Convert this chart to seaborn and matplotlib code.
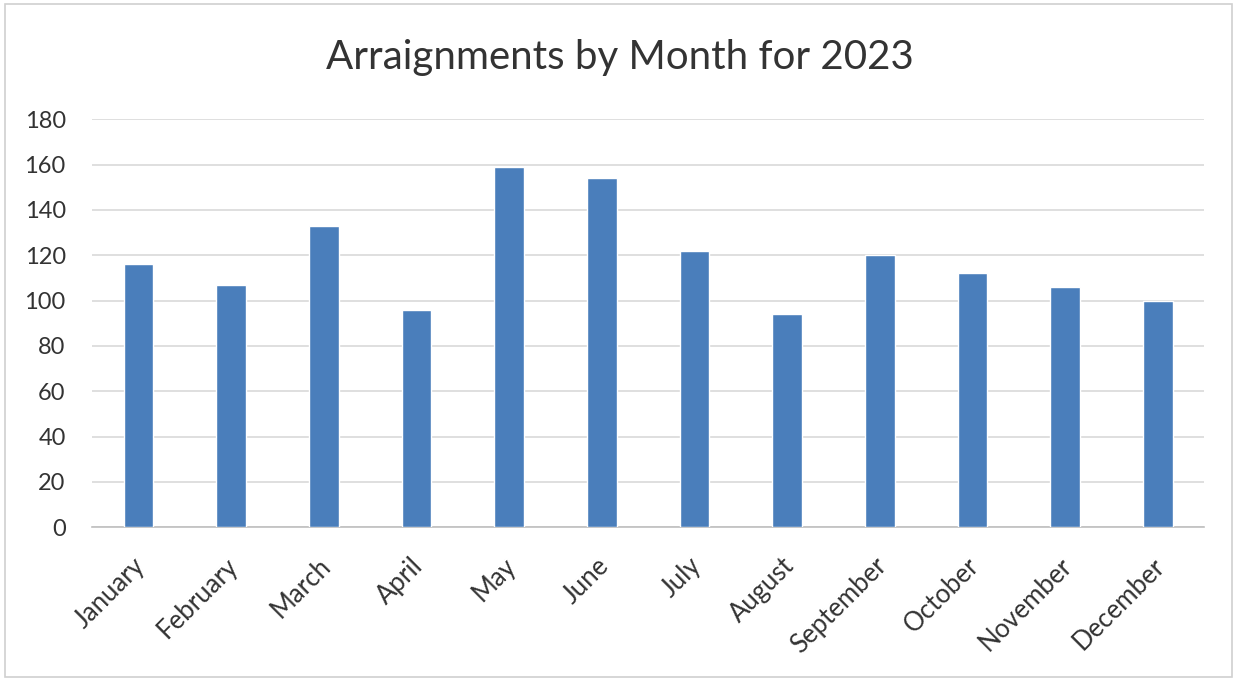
import matplotlib
matplotlib.use("Agg")
import matplotlib.pyplot as plt
import matplotlib.transforms as mtransforms
import seaborn as sns
import pandas as pd
from matplotlib.patches import Rectangle

months = ["January", "February", "March", "April", "May", "June", "July",
          "August", "September", "October", "November", "December"]
arraignments = [116, 107, 133, 96, 159, 154, 122, 94, 120, 112, 106, 100]
y_ticks = [0, 20, 40, 60, 80, 100, 120, 140, 160, 180]
title = "Arraignments by Month for 2023"

sns.set_theme(style="white")
plt.rcParams["font.family"] = ["Lato", "DejaVu Sans"]

df = pd.DataFrame({"Month": months, "Arraignments": arraignments})

fig = plt.figure(figsize=(12.39, 6.81), dpi=100)
ax = fig.add_axes([0.0743, 0.2257, 0.8977, 0.5991])

sns.barplot(data=df, x="Month", y="Arraignments", color="#4a7ebb",
            width=0.32, saturation=1, ax=ax, zorder=3)

ax.set_ylim(0, 180)
ax.set_xlim(-0.5, len(months) - 0.5)
ax.set_yticks(y_ticks)
ax.yaxis.grid(True, color="#d9d9d9", linewidth=1.2, zorder=0)
ax.set_axisbelow(True)
for s in ["top", "right", "left"]:
    ax.spines[s].set_visible(False)
ax.spines["bottom"].set_color("#bfbfbf")
ax.spines["bottom"].set_linewidth(1.2)
ax.set_xlabel("")
ax.set_ylabel("")
ax.tick_params(axis="both", length=0, colors="#333333")
ax.tick_params(axis="y", pad=19, labelsize=17)
ax.tick_params(axis="x", pad=18.5, labelsize=18.5)
offset = mtransforms.ScaledTranslation(-0.06, 0, fig.dpi_scale_trans)
for lbl in ax.get_xticklabels():
    lbl.set_rotation(45)
    lbl.set_ha("right")
    lbl.set_rotation_mode("anchor")
    lbl.set_transform(lbl.get_transform() + offset)

fig.text(0.5, 0.916, title, ha="center", va="center", fontsize=29, color="#333333")

fig.patches.append(Rectangle((0.004, 0.006), 0.99, 0.988, transform=fig.transFigure,
                             fill=False, edgecolor="#d0d0d0", linewidth=1.2))

fig.savefig("out.png", dpi=100)
